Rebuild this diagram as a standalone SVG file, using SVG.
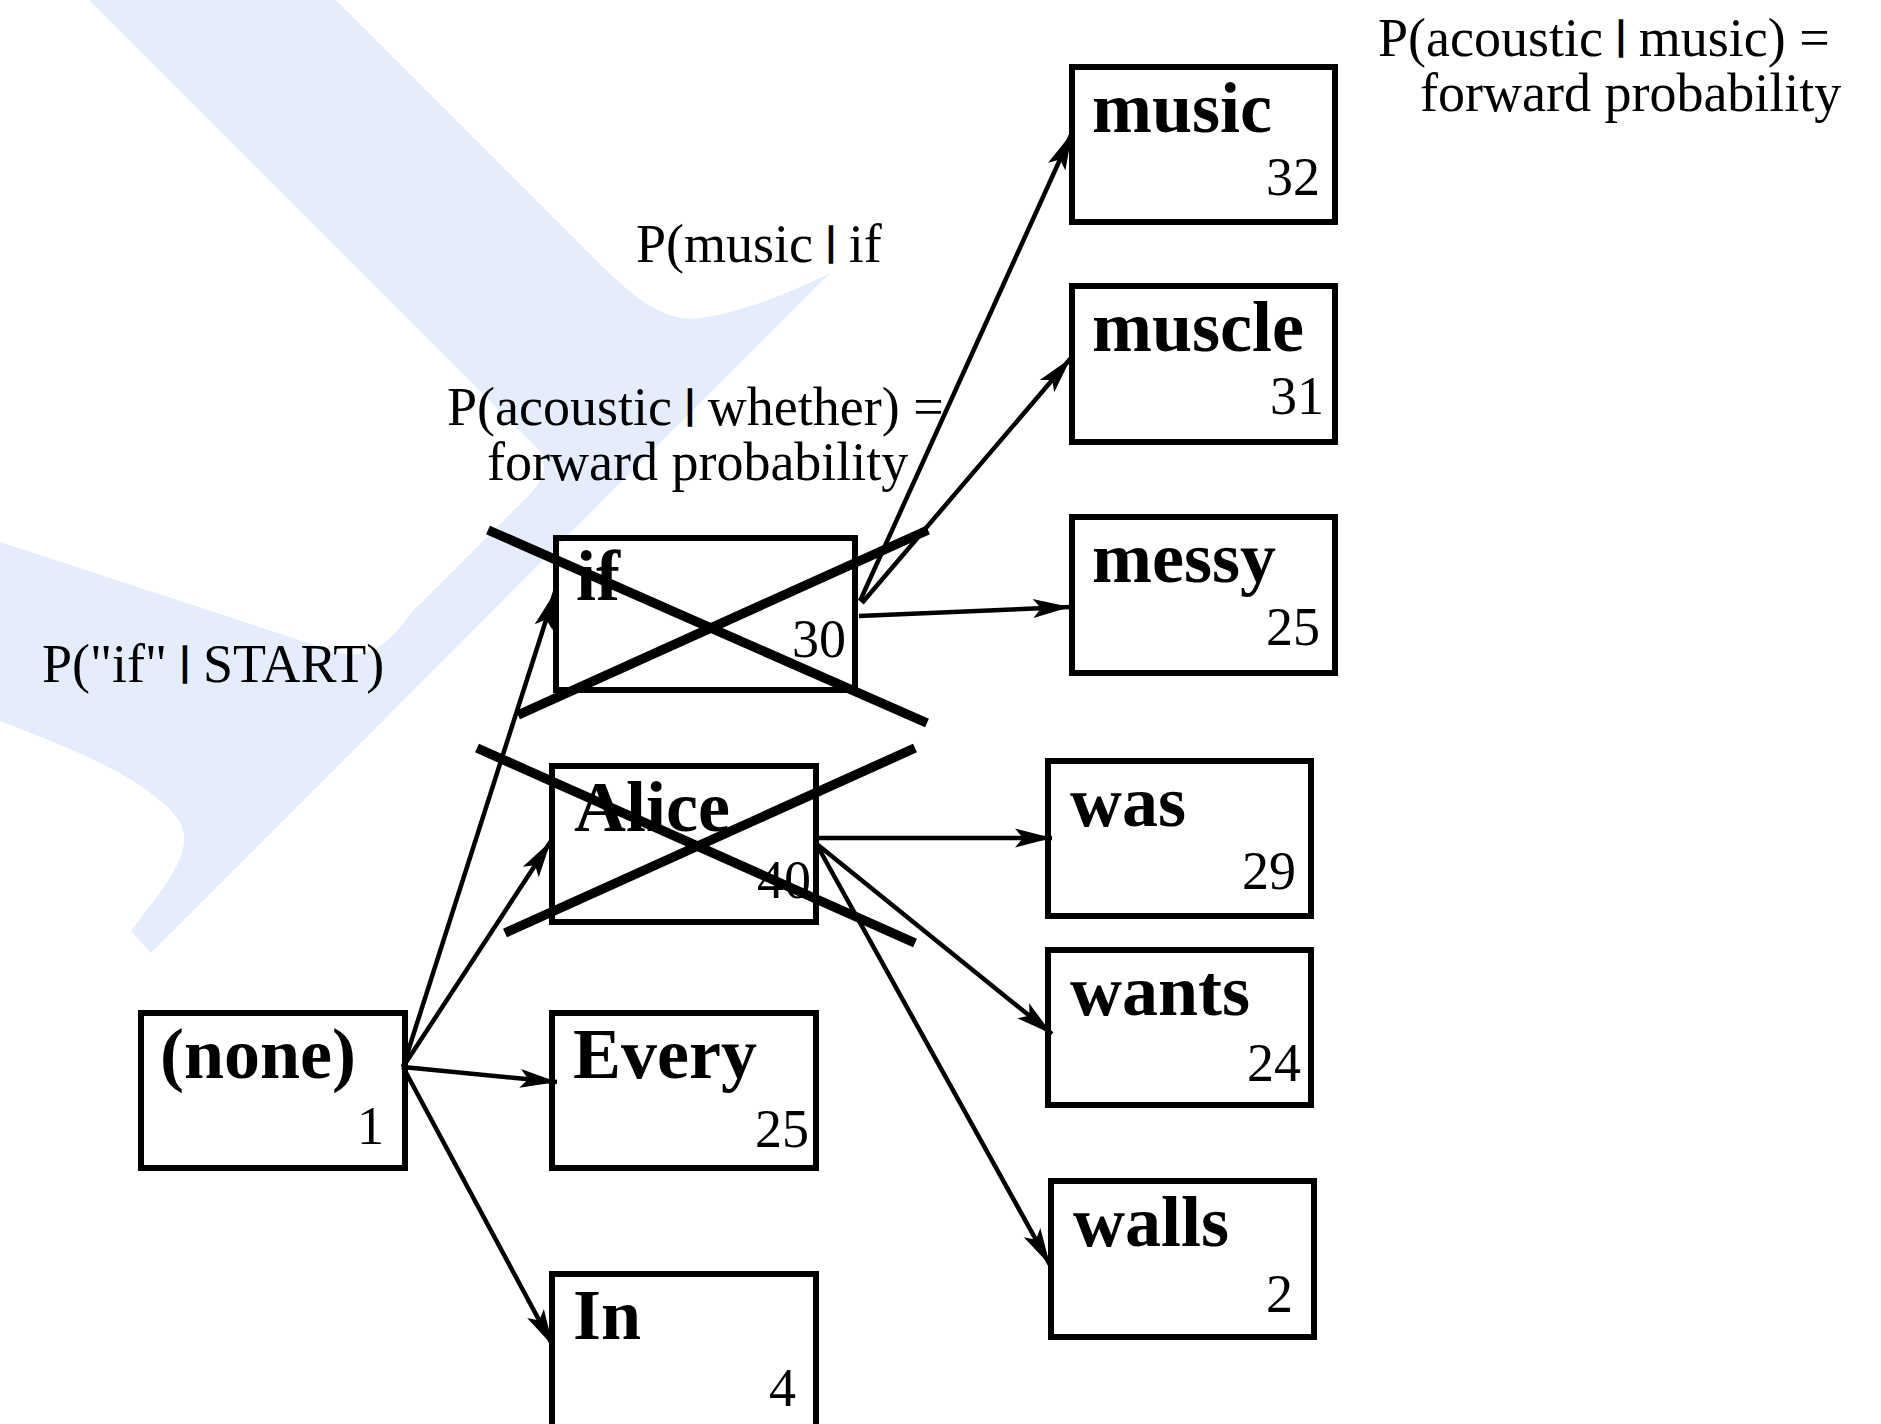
<svg xmlns="http://www.w3.org/2000/svg" width="1881" height="1424" viewBox="0 0 1881 1424">
<style>
.box{fill:none;stroke:#000;stroke-width:6}
.lbl{font-family:"Liberation Serif","Times New Roman",serif;font-weight:bold;font-size:72px;fill:#000}
.num{font-family:"Liberation Serif","Times New Roman",serif;font-size:54px;fill:#000}
.ann{font-family:"Liberation Serif","Times New Roman",serif;font-size:54px;fill:#000}
.bar{font-weight:bold;font-size:40px;stroke:#000;stroke-width:1.6}
.edge{stroke:#000;stroke-width:4.5;fill:none;marker-end:url(#ah)}
.cross{stroke:#000;stroke-width:9.5;fill:none}
</style>
<defs>
<marker id="ah" markerUnits="userSpaceOnUse" markerWidth="42" markerHeight="22" viewBox="-40 -11 42 22" refX="0" refY="0" orient="auto"><path d="M0,0 L-37,-9.5 L-29,0 L-37,9.5 Z" fill="#000"/></marker>
</defs>
<rect width="1881" height="1424" fill="#fff"/>
<path id="background" fill="#e5ecfb" d="M89,0 L336,0 L600,264 C640,304 668,322 700,318 C745,312 790,292 829,274 L151,953 L131,931 C170,880 200,845 175,815 C140,775 70,748 0,721 L0,542 L330,650 Q375,668 410,614 L530,494 Q556,467 535,446 Z"/>
<g id="annotations">
<text class="ann" x="1378" y="56">P(acoustic <tspan class="bar" baseline-shift="8">|</tspan> music) =<tspan x="1420" y="111">forward probability</tspan></text>
<text class="ann" x="636" y="262">P(music <tspan class="bar" baseline-shift="8">|</tspan> if</text>
<text class="ann" x="447" y="425">P(acoustic <tspan class="bar" baseline-shift="8">|</tspan> whether) =<tspan x="487" y="480">forward probability</tspan></text>
<text class="ann" x="42" y="682">P("if" <tspan class="bar" baseline-shift="8">|</tspan> START)</text>
</g>
<g id="node-music"><rect class="box" x="1072" y="67" width="263" height="155"/><text class="lbl" x="1092" y="132">music</text><text class="num" x="1266" y="195">32</text></g>
<g id="node-muscle"><rect class="box" x="1072" y="286" width="263" height="156"/><text class="lbl" x="1092" y="351">muscle</text><text class="num" x="1270" y="414">31</text></g>
<g id="node-messy"><rect class="box" x="1072" y="517" width="263" height="156"/><text class="lbl" x="1092" y="582">messy</text><text class="num" x="1266" y="645">25</text></g>
<g id="node-if"><rect class="box" x="556" y="538" width="299" height="152"/><text class="lbl" x="576" y="600">if</text><text class="num" x="792" y="657">30</text></g>
<g id="node-alice"><rect class="box" x="552" y="766" width="264" height="156"/><text class="lbl" x="574" y="831">Alice</text><text class="num" x="757" y="898">40</text></g>
<g id="node-every"><rect class="box" x="552" y="1013" width="264" height="155"/><text class="lbl" x="573" y="1078">Every</text><text class="num" x="755" y="1147">25</text></g>
<g id="node-in"><rect class="box" x="552" y="1274" width="264" height="155"/><text class="lbl" x="573" y="1339">In</text><text class="num" x="769" y="1406">4</text></g>
<g id="node-none"><rect class="box" x="141" y="1013" width="264" height="155"/><text class="lbl" x="160" y="1078">(none)</text><text class="num" x="357" y="1144">1</text></g>
<g id="node-was"><rect class="box" x="1048" y="761" width="263" height="155"/><text class="lbl" x="1070" y="826">was</text><text class="num" x="1242" y="889">29</text></g>
<g id="node-wants"><rect class="box" x="1048" y="950" width="263" height="155"/><text class="lbl" x="1070" y="1015">wants</text><text class="num" x="1247" y="1081">24</text></g>
<g id="node-walls"><rect class="box" x="1051" y="1181" width="263" height="156"/><text class="lbl" x="1073" y="1246">walls</text><text class="num" x="1266" y="1312">2</text></g>
<g id="connectors">
<path class="edge" d="M403,1067 L555,592"/>
<path class="edge" d="M403,1067 L551,841"/>
<path class="edge" d="M403,1067 L557,1082"/>
<path class="edge" d="M403,1067 L553,1346"/>
<path class="edge" d="M860,601 L1072,133"/>
<path class="edge" d="M862,603 L1071,358"/>
<path class="edge" d="M859,616 L1070,607"/>
<path class="edge" d="M818,838 L1052,838"/>
<path class="edge" d="M818,845 L1052,1034"/>
<path class="edge" d="M818,847 L1050,1265"/>
</g>
<g id="crosses">
<path class="cross" d="M488,530 L927,723 M518,715 L928,530"/>
<path class="cross" d="M477,748 L915,943 M505,933 L915,748"/>
</g>
</svg>
